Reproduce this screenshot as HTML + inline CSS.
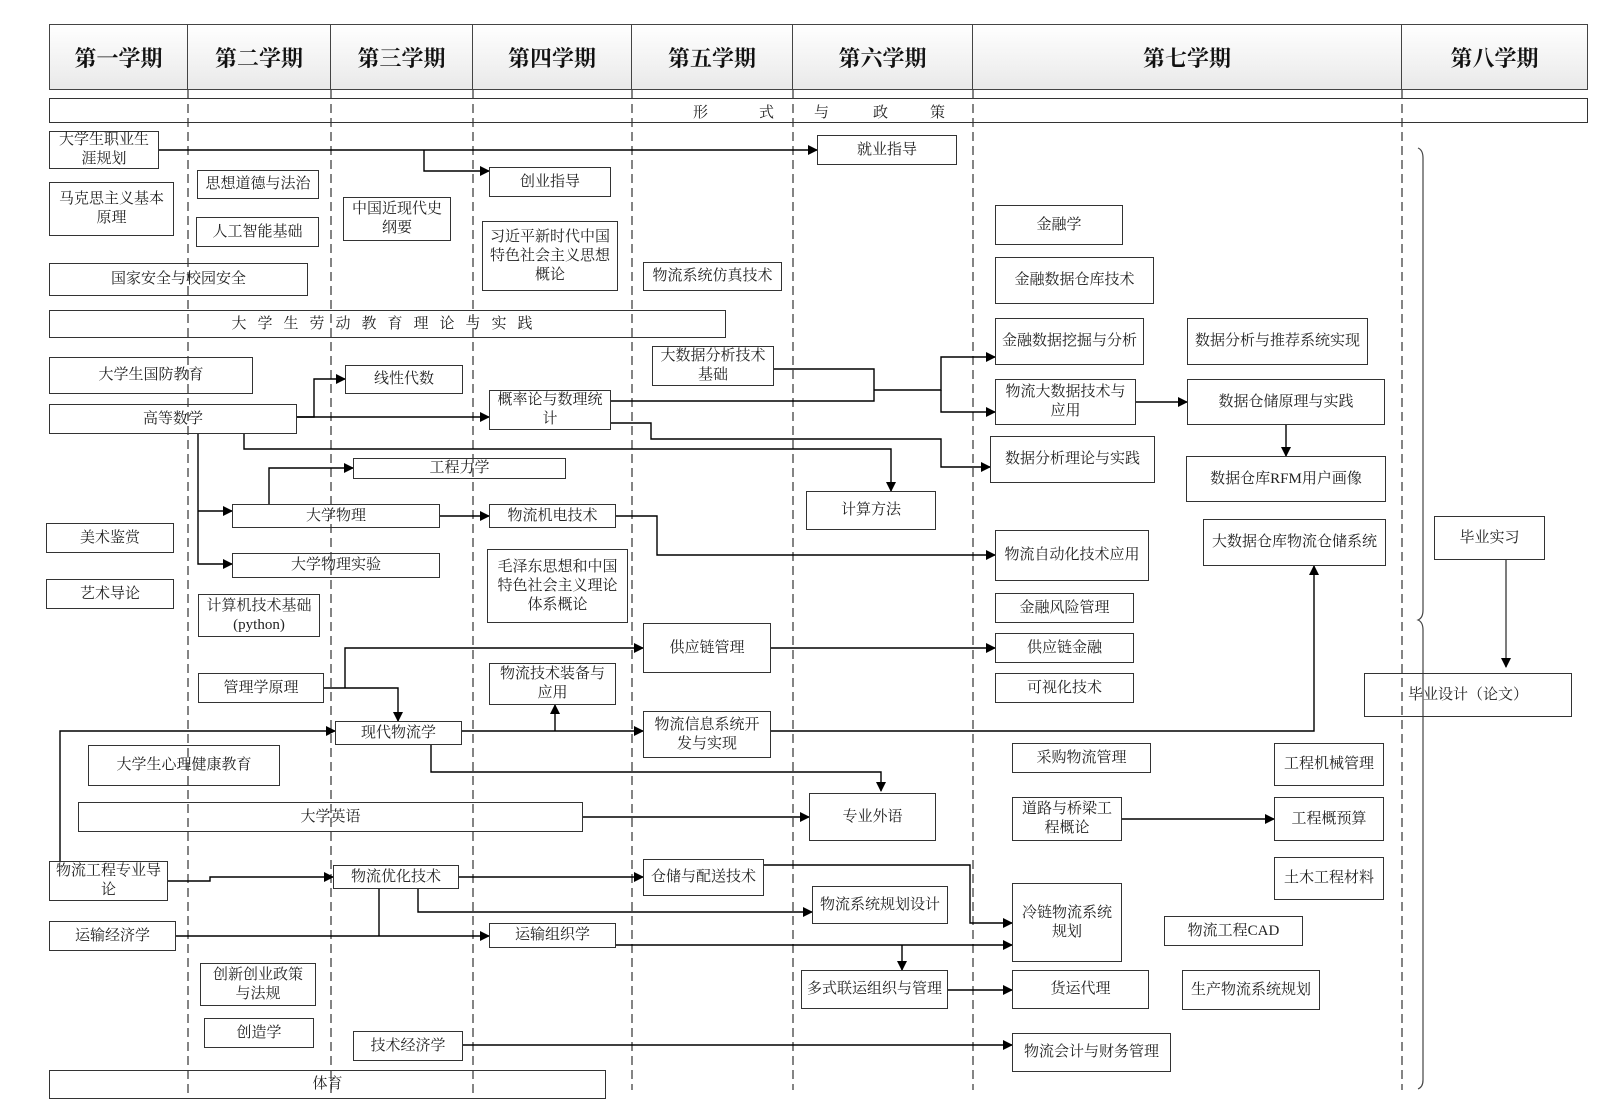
<!DOCTYPE html>
<html><head><meta charset="utf-8">
<style>
body{margin:0;background:#fff;width:1613px;height:1117px;position:relative;overflow:hidden;font-family:"Liberation Serif","Noto Serif CJK SC",serif;}
.b{position:absolute;border:1.3px solid #333;box-sizing:border-box;display:flex;align-items:center;justify-content:center;text-align:center;font-size:15px;line-height:19px;color:#222;}
.h{position:absolute;top:24px;height:66px;box-sizing:border-box;border:1.3px solid #444;border-left:none;background:linear-gradient(#fff,#e9e9e9);display:flex;align-items:center;justify-content:center;font-size:22px;font-weight:bold;color:#111;}
svg{position:absolute;left:0;top:0}
.t{position:absolute;font-size:15px;color:#222}
</style></head><body>
<div class="h" style="left:49px;width:139px;border-left:1.3px solid #444">第一学期</div>
<div class="h" style="left:188px;width:143px">第二学期</div>
<div class="h" style="left:331px;width:142px">第三学期</div>
<div class="h" style="left:473px;width:159px">第四学期</div>
<div class="h" style="left:632px;width:161px">第五学期</div>
<div class="h" style="left:793px;width:180px">第六学期</div>
<div class="h" style="left:973px;width:429px">第七学期</div>
<div class="h" style="left:1402px;width:186px">第八学期</div>
<div class="b" style="left:49px;top:98px;width:1539px;height:25px"></div>
<div class="t" style="left:693px;top:101px">形</div>
<div class="t" style="left:759px;top:101px">式</div>
<div class="t" style="left:814px;top:101px">与</div>
<div class="t" style="left:873px;top:101px">政</div>
<div class="t" style="left:930px;top:101px">策</div>

<svg width="1613" height="1117">
<defs><marker id="a" markerWidth="10" markerHeight="10" refX="9" refY="5" orient="auto" markerUnits="userSpaceOnUse"><path d="M0,0 L10,5 L0,10z" fill="#000"/></marker></defs>
<g stroke="#333" stroke-width="1.2" stroke-dasharray="9,5">
<line x1="188" y1="90" x2="188" y2="1095"/><line x1="331" y1="90" x2="331" y2="1095"/><line x1="473" y1="90" x2="473" y2="1095"/><line x1="632" y1="90" x2="632" y2="1090"/><line x1="793" y1="90" x2="793" y2="1090"/><line x1="973" y1="90" x2="973" y2="1090"/><line x1="1402" y1="90" x2="1402" y2="1090"/>
</g>
<g stroke="#000" stroke-width="1.4" fill="none" marker-end="url(#a)">
<path d="M159,150 H817"/>
<path d="M424,150 V171 H489"/>
<path d="M297,417 H314 V379 H345"/>
<path d="M297,417 H489"/>
<path d="M244,434 V449 H891 V491"/>
<path d="M774,369 H874 V401 H611"  marker-end="none"/>
<path d="M874,390 H941 V357 H995"/>
<path d="M941,390 V412 H995"/>
<path d="M611,423 H651 V439 H941 V467 H990"/>
<path d="M616,516 H657 V555 H995"/>
<path d="M198,434 V564 H232"/>
<path d="M198,511 H232"/>
<path d="M269,504 V468 H353"/>
<path d="M440,516 H489"/>
<path d="M1136,402 H1187"/>
<path d="M1286,425 V456"/>
<path d="M345,688 V648 H643"/>
<path d="M324,688 H398 V721"/>
<path d="M771,648 H995"/>
<path d="M555,731 V705"/>
<path d="M462,731 H643"/>
<path d="M60,861 V731 H335"/>
<path d="M431,745 V772 H881 V791"/>
<path d="M771,731 H1314 V566"/>
<path d="M583,817 H809"/>
<path d="M168,881 H210 V877 H333"/>
<path d="M459,877 H643"/>
<path d="M418,889 V912 H812"/>
<path d="M379,889 V936" marker-end="none"/>
<path d="M176,936 H489"/>
<path d="M764,865 H970 V923 H1012"/>
<path d="M616,945 H1012"/>
<path d="M902,945 V970"/>
<path d="M948,990 H1012"/>
<path d="M463,1045 H1012"/>
<path d="M1122,819 H1274"/>
<path d="M1506,560 V667" stroke="#444"/>
<path d="M1418,148 Q1423,150 1423,158 V610 Q1423,618 1418,620 Q1423,622 1423,630 V1080 Q1423,1087 1418,1089" marker-end="none" stroke="#444" stroke-width="1.2"/>
</g>
</svg>

<div class="b" style="left:49px;top:131px;width:110px;height:38px">大学生职业生<br>涯规划</div>
<div class="b" style="left:817px;top:135px;width:140px;height:30px">就业指导</div>
<div class="b" style="left:489px;top:167px;width:122px;height:30px">创业指导</div>
<div class="b" style="left:197px;top:170px;width:122px;height:29px">思想道德与法治</div>
<div class="b" style="left:49px;top:182px;width:125px;height:54px">马克思主义基本<br>原理</div>
<div class="b" style="left:196px;top:217px;width:123px;height:30px">人工智能基础</div>
<div class="b" style="left:343px;top:197px;width:108px;height:44px">中国近现代史<br>纲要</div>
<div class="b" style="left:482px;top:221px;width:136px;height:70px">习近平新时代中国<br>特色社会主义思想<br>概论</div>
<div class="b" style="left:49px;top:263px;width:259px;height:33px">国家安全与校园安全</div>
<div class="b" style="left:643px;top:262px;width:139px;height:29px">物流系统仿真技术</div>
<div class="b" style="left:49px;top:310px;width:677px;height:28px;letter-spacing:11px">大学生劳动教育理论与实践</div>
<div class="b" style="left:49px;top:357px;width:204px;height:37px">大学生国防教育</div>
<div class="b" style="left:345px;top:365px;width:118px;height:29px">线性代数</div>
<div class="b" style="left:49px;top:404px;width:248px;height:30px">高等数学</div>
<div class="b" style="left:489px;top:390px;width:122px;height:40px">概率论与数理统<br>计</div>
<div class="b" style="left:652px;top:346px;width:122px;height:40px">大数据分析技术<br>基础</div>
<div class="b" style="left:353px;top:458px;width:213px;height:21px">工程力学</div>
<div class="b" style="left:232px;top:504px;width:208px;height:24px">大学物理</div>
<div class="b" style="left:489px;top:504px;width:127px;height:24px">物流机电技术</div>
<div class="b" style="left:46px;top:523px;width:128px;height:30px">美术鉴赏</div>
<div class="b" style="left:806px;top:491px;width:130px;height:39px">计算方法</div>
<div class="b" style="left:995px;top:205px;width:128px;height:40px">金融学</div>
<div class="b" style="left:995px;top:257px;width:159px;height:47px">金融数据仓库技术</div>
<div class="b" style="left:995px;top:318px;width:149px;height:47px">金融数据挖掘与分析</div>
<div class="b" style="left:1187px;top:318px;width:181px;height:47px">数据分析与推荐系统实现</div>
<div class="b" style="left:995px;top:379px;width:141px;height:46px">物流大数据技术与<br>应用</div>
<div class="b" style="left:1187px;top:379px;width:198px;height:46px">数据仓储原理与实践</div>
<div class="b" style="left:990px;top:436px;width:165px;height:47px">数据分析理论与实践</div>
<div class="b" style="left:1186px;top:456px;width:200px;height:46px">数据仓库RFM用户画像</div>
<div class="b" style="left:1203px;top:519px;width:183px;height:47px">大数据仓库物流仓储系统</div>
<div class="b" style="left:1434px;top:516px;width:111px;height:44px">毕业实习</div>
<div class="b" style="left:995px;top:530px;width:154px;height:51px">物流自动化技术应用</div>
<div class="b" style="left:232px;top:553px;width:208px;height:25px">大学物理实验</div>
<div class="b" style="left:487px;top:549px;width:141px;height:74px">毛泽东思想和中国<br>特色社会主义理论<br>体系概论</div>
<div class="b" style="left:46px;top:579px;width:128px;height:30px">艺术导论</div>
<div class="b" style="left:198px;top:594px;width:122px;height:43px">计算机技术基础<br>(python)</div>
<div class="b" style="left:995px;top:593px;width:139px;height:30px">金融风险管理</div>
<div class="b" style="left:643px;top:623px;width:128px;height:50px">供应链管理</div>
<div class="b" style="left:995px;top:633px;width:139px;height:30px">供应链金融</div>
<div class="b" style="left:198px;top:673px;width:126px;height:30px">管理学原理</div>
<div class="b" style="left:489px;top:663px;width:127px;height:42px">物流技术装备与<br>应用</div>
<div class="b" style="left:995px;top:673px;width:139px;height:30px">可视化技术</div>
<div class="b" style="left:1364px;top:673px;width:208px;height:44px">毕业设计（论文）</div>
<div class="b" style="left:335px;top:721px;width:127px;height:24px">现代物流学</div>
<div class="b" style="left:643px;top:711px;width:128px;height:47px">物流信息系统开<br>发与实现</div>
<div class="b" style="left:88px;top:745px;width:192px;height:41px">大学生心理健康教育</div>
<div class="b" style="left:1012px;top:743px;width:139px;height:30px">采购物流管理</div>
<div class="b" style="left:1274px;top:743px;width:110px;height:43px">工程机械管理</div>
<div class="b" style="left:78px;top:802px;width:505px;height:30px">大学英语</div>
<div class="b" style="left:809px;top:793px;width:127px;height:48px">专业外语</div>
<div class="b" style="left:1012px;top:797px;width:110px;height:44px">道路与桥梁工<br>程概论</div>
<div class="b" style="left:1274px;top:797px;width:110px;height:44px">工程概预算</div>
<div class="b" style="left:1274px;top:857px;width:110px;height:43px">土木工程材料</div>
<div class="b" style="left:49px;top:861px;width:119px;height:40px">物流工程专业导<br>论</div>
<div class="b" style="left:333px;top:865px;width:126px;height:24px">物流优化技术</div>
<div class="b" style="left:643px;top:859px;width:121px;height:37px">仓储与配送技术</div>
<div class="b" style="left:812px;top:886px;width:136px;height:38px">物流系统规划设计</div>
<div class="b" style="left:1012px;top:883px;width:110px;height:79px">冷链物流系统<br>规划</div>
<div class="b" style="left:1164px;top:916px;width:139px;height:30px">物流工程CAD</div>
<div class="b" style="left:49px;top:921px;width:127px;height:30px">运输经济学</div>
<div class="b" style="left:489px;top:923px;width:127px;height:25px">运输组织学</div>
<div class="b" style="left:200px;top:963px;width:116px;height:43px">创新创业政策<br>与法规</div>
<div class="b" style="left:801px;top:970px;width:147px;height:39px">多式联运组织与管理</div>
<div class="b" style="left:1012px;top:970px;width:137px;height:39px">货运代理</div>
<div class="b" style="left:1182px;top:970px;width:138px;height:40px">生产物流系统规划</div>
<div class="b" style="left:204px;top:1018px;width:110px;height:30px">创造学</div>
<div class="b" style="left:353px;top:1031px;width:110px;height:30px">技术经济学</div>
<div class="b" style="left:1012px;top:1033px;width:159px;height:39px">物流会计与财务管理</div>
<div class="b" style="left:49px;top:1070px;width:557px;height:29px">体育</div>
</body></html>
